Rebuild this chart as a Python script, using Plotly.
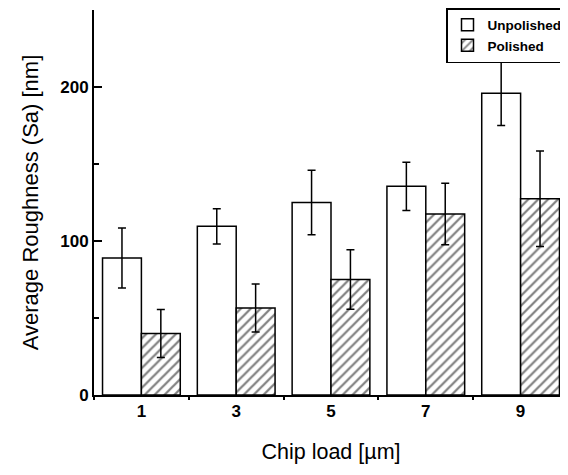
import plotly.graph_objects as go

categories = ["1", "3", "5", "7", "9"]
unpolished = [89, 109.5, 125, 135.5, 196]
unpolished_err = [19.5, 11.5, 21, 15.7, 21]
polished = [40, 56.5, 75, 117.5, 127.5]
polished_err = [15.6, 15.6, 19.3, 20, 31]

FONT = "Liberation Sans, Arial, sans-serif"

fig = go.Figure()
fig.add_trace(go.Bar(
    x=categories, y=unpolished, name="<b>Unpolished</b>",
    marker=dict(color="white", line=dict(color="black", width=1.5)),
    error_y=dict(type="data", array=unpolished_err, color="black", thickness=1.5, width=4),
))
fig.add_trace(go.Bar(
    x=categories, y=polished, name="<b>Polished</b>",
    marker=dict(color="white", line=dict(color="black", width=1.5),
                pattern=dict(shape="/", fgcolor="black", bgcolor="white", size=7, solidity=0.32)),
    error_y=dict(type="data", array=polished_err, color="black", thickness=1.5, width=4),
))

fig.update_layout(
    width=560, height=467,
    margin=dict(l=85.5, r=0, t=1, b=79.5, pad=0),
    paper_bgcolor="white", plot_bgcolor="white",
    barmode="group", bargap=0.18, bargroupgap=0,
    font=dict(family=FONT, color="black"),
    showlegend=True,
    legend=dict(x=1.0, y=1.005, xanchor="right", yanchor="top",
                bordercolor="black", borderwidth=1.5, bgcolor="white",
                font=dict(size=13.5, family=FONT),
                tracegroupgap=0, itemwidth=30),
    xaxis=dict(
        range=[-0.5, 4.5], showline=True, linecolor="black", linewidth=2,
        ticks="outside", tickson="boundaries", ticklen=3, tickwidth=1.5, tickcolor="black",
        tickfont=dict(size=17, weight="bold"),
        title=dict(text="Chip load [µm]", font=dict(size=21.5), standoff=24),
        showgrid=False, zeroline=False,
    ),
    yaxis=dict(
        range=[0, 250], showline=True, linecolor="black", linewidth=2,
        tickmode="linear", tick0=0, dtick=100,
        ticks="inside", ticklen=8, tickwidth=2, tickcolor="black",
        minor=dict(dtick=50, ticks="inside", ticklen=5, tickwidth=2, tickcolor="black"),
        tickfont=dict(size=17, weight="bold"),
        title=dict(text="Average Roughness (Sa) [nm]", font=dict(size=22), standoff=16),
        showgrid=False, zeroline=False,
    ),
)

fig.write_html("out.html")
